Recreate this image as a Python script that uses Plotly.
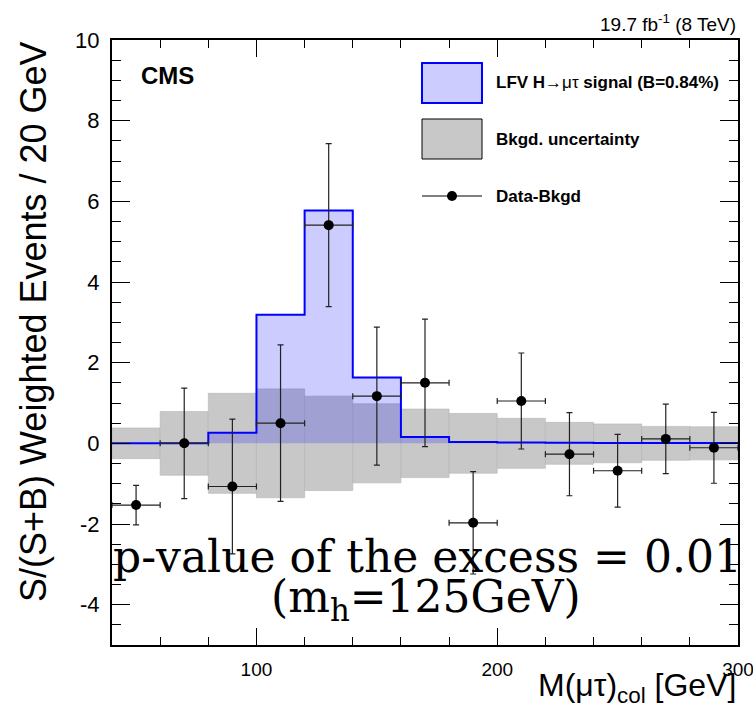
import plotly.graph_objects as go

# ---------------- data ----------------
bin_edges = [40, 60, 80, 100, 120, 140, 160, 180, 200, 220, 240, 260, 280, 300]
bin_centers = [50, 70, 90, 110, 130, 150, 170, 190, 210, 230, 250, 270, 290]
signal = [0.0, 0.0, 0.26, 3.19, 5.77, 1.63, 0.16, 0.03, 0.02, 0.015, 0.01, 0.01, 0.01]
bkg_unc = [0.38, 0.79, 1.24, 1.35, 1.17, 0.98, 0.85, 0.74, 0.62, 0.52, 0.48, 0.42, 0.41]
data_val = [-1.53, 0.0, -1.07, 0.5, 5.41, 1.17, 1.5, -1.97, 1.05, -0.27, -0.68, 0.11, -0.11]
data_err = [0.49, 1.37, 1.67, 1.94, 2.02, 1.71, 1.58, 1.27, 1.19, 1.03, 0.9, 0.86, 0.88]
bin_halfwidth = [10] * 13
x_ticks = [100, 200, 300]
y_ticks = [-4, -2, 0, 2, 4, 6, 8, 10]

W, H = 753, 717
ML, MR, MT, MB = 112, 15, 40, 72
PW, PH = W - ML - MR, H - MT - MB


def px(x):
    return (x - ML) / PW


def py(y):
    return (H - MB - y) / PH


SANS = "Liberation Sans, Arial, Helvetica, sans-serif"
SERIF = "DejaVu Serif, serif"

fig = go.Figure()

# background uncertainty band
fig.add_trace(go.Bar(
    x=bin_centers,
    y=[2 * u for u in bkg_unc],
    base=[-u for u in bkg_unc],
    width=20,
    marker=dict(color="#c8c8c8", line=dict(color="#b4b4b4", width=0.6)),
    showlegend=False,
    hoverinfo="skip",
))

# signal step histogram
fig.add_trace(go.Scatter(
    x=bin_edges,
    y=signal + [signal[-1]],
    mode="lines",
    line=dict(color="#0000ff", width=2, shape="hv"),
    fill="tozeroy",
    fillcolor="rgba(0,0,255,0.2)",
    showlegend=False,
    hoverinfo="skip",
))

# data - bkgd points
fig.add_trace(go.Scatter(
    x=bin_centers,
    y=data_val,
    mode="markers",
    marker=dict(color="black", size=10),
    error_y=dict(type="data", array=data_err, color="#222222", thickness=1.2, width=3),
    error_x=dict(type="data", array=bin_halfwidth, color="#222222", thickness=1.2, width=3),
    showlegend=False,
))

shapes = [
    # legend boxes
    dict(type="rect", xref="paper", yref="paper", x0=px(422), x1=px(482), y0=py(103), y1=py(63),
         fillcolor="rgba(0,0,255,0.2)", line=dict(color="#0000ff", width=2)),
    dict(type="rect", xref="paper", yref="paper", x0=px(422), x1=px(482), y0=py(159), y1=py(119),
         fillcolor="#c8c8c8", line=dict(color="black", width=1)),
    dict(type="line", xref="paper", yref="paper", x0=px(422), x1=px(482), y0=py(196), y1=py(196),
         line=dict(color="black", width=1.2)),
    dict(type="circle", xref="paper", yref="paper", x0=px(447), x1=px(457), y0=py(201), y1=py(191),
         fillcolor="black", line=dict(color="black", width=0)),
]

annotations = [
    dict(text="<b>LFV H</b>→μτ<b> signal (B=0.84%)</b>", x=px(494), y=py(83), xref="paper", yref="paper",
         xanchor="left", yanchor="middle", showarrow=False, font=dict(family=SANS, size=17, color="black")),
    dict(text="<b>Bkgd. uncertainty</b>", x=px(494), y=py(139), xref="paper", yref="paper",
         xanchor="left", yanchor="middle", showarrow=False, font=dict(family=SANS, size=17, color="black")),
    dict(text="<b>Data-Bkgd</b>", x=px(494), y=py(196), xref="paper", yref="paper",
         xanchor="left", yanchor="middle", showarrow=False, font=dict(family=SANS, size=17, color="black")),
    dict(text="<b>CMS</b>", x=px(139), y=py(75), xref="paper", yref="paper",
         xanchor="left", yanchor="middle", showarrow=False, font=dict(family=SANS, size=24, color="black")),
    dict(text="19.7 fb<sup>-1</sup> (8 TeV)", x=1.0, y=py(23), xref="paper", yref="paper",
         xanchor="right", yanchor="middle", showarrow=False, font=dict(family=SANS, size=19, color="black")),
    dict(text="M(μτ)<sub>col</sub> [GeV]", x=1.0, y=py(665), xref="paper", yref="paper",
         xanchor="right", yanchor="top", showarrow=False, font=dict(family=SANS, size=32, color="black")),
    dict(text="S/(S+B) Weighted Events / 20 GeV", x=px(33), y=py(322), xref="paper", yref="paper",
         xanchor="center", yanchor="middle", textangle=-90, showarrow=False,
         font=dict(family=SANS, size=36, color="black")),
    dict(text="p-value of the excess = 0.01", x=px(427), y=py(556), xref="paper", yref="paper",
         xanchor="center", yanchor="middle", showarrow=False, font=dict(family=SERIF, size=44, color="black")),
    dict(text="(m<sub>h</sub>=125GeV)", x=px(426), y=py(599), xref="paper", yref="paper",
         xanchor="center", yanchor="middle", showarrow=False, font=dict(family=SERIF, size=44, color="black")),
]

fig.update_layout(
    width=W, height=H,
    margin=dict(l=ML, r=MR, t=MT, b=MB, pad=0, autoexpand=False),
    plot_bgcolor="white", paper_bgcolor="white",
    barmode="overlay",
    shapes=shapes,
    annotations=annotations,
    font=dict(family=SANS, color="black"),
)

fig.update_xaxes(
    range=[40, 300], tickmode="array", tickvals=x_ticks, ticktext=[str(t) for t in x_ticks],
    ticks="inside", ticklen=17, tickwidth=1, tickcolor="black",
    minor=dict(dtick=20, tick0=0, ticks="inside", ticklen=8, tickwidth=1, tickcolor="black"),
    showline=True, linecolor="black", linewidth=2, mirror="allticks",
    showgrid=False, zeroline=False, automargin=False,
    tickfont=dict(family=SANS, size=19, color="black"), ticklabelstandoff=6,
    ticklabeloverflow="allow",
)
fig.update_yaxes(
    range=[-5, 10], tickmode="array", tickvals=y_ticks, ticktext=[str(t) for t in y_ticks],
    ticks="inside", ticklen=18, tickwidth=1, tickcolor="black",
    minor=dict(dtick=0.5, tick0=0, ticks="inside", ticklen=9, tickwidth=1, tickcolor="black"),
    showline=True, linecolor="black", linewidth=2, mirror="allticks",
    showgrid=False, zeroline=False, automargin=False,
    tickfont=dict(family=SANS, size=22, color="black"), ticklabelstandoff=6,
)

fig.write_html(
    "out.html",
    config={"displayModeBar": False},
    post_script="document.body.style.margin='0';document.body.style.overflow='hidden';",
)
